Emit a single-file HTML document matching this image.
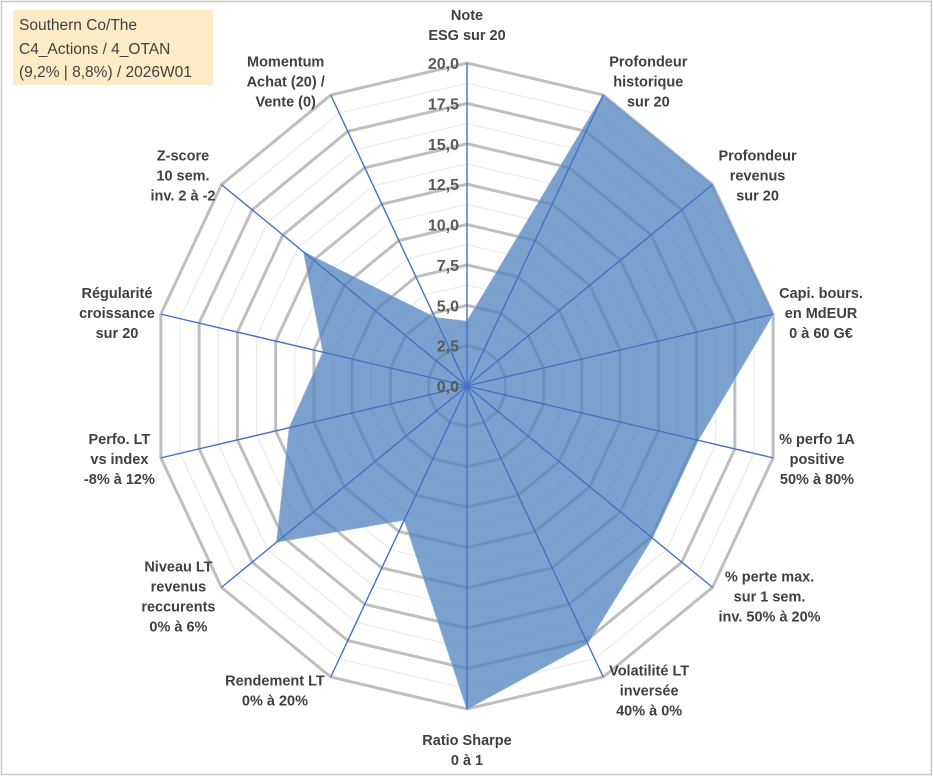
<!DOCTYPE html>
<html><head><meta charset="utf-8"><style>
body{margin:0;background:#fff;}
svg text{font-family:"Liberation Sans",sans-serif;}
</style></head><body>
<svg id="c" width="933" height="776" xmlns="http://www.w3.org/2000/svg">
<rect x="1.5" y="1.5" width="930" height="773" fill="#fff" stroke="#c8c8c8" stroke-width="1.5"/>
<rect x="13" y="10" width="200" height="75" fill="#fdebc6"/>
<text x="19" y="30" font-size="15.5" fill="#404040">Southern Co/The</text>
<text x="19" y="54" font-size="15.5" fill="#404040">C4_Actions / 4_OTAN</text>
<text x="19" y="77" font-size="15.5" fill="#404040">(9,2% | 8,8%) / 2026W01</text>
<g id="grid"></g><g id="series"></g><g id="axes"></g><g id="ticks"></g><g id="labels"></g>
</svg>
<script>
const categories=[["Note","ESG sur 20"],["Profondeur","historique","sur 20"],["Profondeur","revenus","sur 20"],["Capi. bours.","en MdEUR","0 à 60 G€"],["% perfo 1A","positive","50% à 80%"],["% perte max.","sur 1 sem.","inv. 50% à 20%"],["Volatilité LT","inversée","40% à 0%"],["Ratio Sharpe","0 à 1"],["Rendement LT","0% à 20%"],["Niveau LT","revenus","reccurents","0% à 6%"],["Perfo. LT","vs index","-8% à 12%"],["Régularité","croissance","sur 20"],["Z-score","10 sem.","inv. 2 à -2"],["Momentum","Achat (20) /","Vente (0)"]];
const values=[4.0,20,20,20,15.1,15.1,17.7,20,9.2,15.5,11.6,9.4,13.3,4.7];
const tickLabels=["0,0","2,5","5,0","7,5","10,0","12,5","15,0","17,5","20,0"];
const maxVal=20;
const cx=467,cy=386,RX=314,RY=323;
const N=categories.length;
const NS="http://www.w3.org/2000/svg";
function ang(i){return i*2*Math.PI/N;}
function pt(i,v){const r=v/maxVal;return [cx+RX*r*Math.sin(ang(i)),cy-RY*r*Math.cos(ang(i))];}
function mk(t,a,p){const e=document.createElementNS(NS,t);for(const k in a)e.setAttribute(k,a[k]);p.appendChild(e);return e;}
const grid=document.getElementById('grid');
for(let s=1;s<=16;s++){const v=s*1.25;const pts=[];for(let i=0;i<N;i++)pts.push(pt(i,v).join(','));
const major=s%2===0;
const el=mk('polygon',{points:pts.join(' '),fill:'none',stroke:major?'#bfbfbf':'#e8e8e8','stroke-width':major?3:1},grid);

}
const sp=[];for(let i=0;i<N;i++)sp.push(pt(i,values[i]).join(','));
const poly=mk('polygon',{points:sp.join(' '),fill:'#4f81bd','fill-opacity':0.75,stroke:'#8aa8d0','stroke-width':1},document.getElementById('series'));


const axes=document.getElementById('axes');
for(let i=0;i<N;i++){const p=pt(i,maxVal);const l=mk('line',{x1:cx,y1:cy,x2:p[0],y2:p[1],stroke:'#4472c4','stroke-width':1.4},axes);

}
const ticks=document.getElementById('ticks');
tickLabels.forEach((t,k)=>{const y=cy-RY*(k*2.5/maxVal)+6;const e=mk('text',{x:cx-8,y:y,'text-anchor':'end','font-size':16,'font-weight':'bold',fill:'#595959'},ticks);e.textContent=t;

});
const labs=document.getElementById('labels');
categories.forEach((lines,i)=>{const a=ang(i);const s=Math.sin(a),c=-Math.cos(a);
const v=pt(i,maxVal);
const lh=20;const h=(lines.length-1)*lh;
const g=mk('text',{'text-anchor':'middle','font-size':14.5,'font-weight':'bold',fill:'#404040'},labs);


const tsl=lines.map(ln=>{const ts=mk('tspan',{},g);ts.textContent=ln;return ts;});
let w=0;tsl.forEach(ts=>{w=Math.max(w,ts.getComputedTextLength());});
let ax,y0;
if(Math.abs(s)<0.1){ax=cx;y0=c<0?v[1]-h-23:v[1]+36;}
else{ax=v[0]+Math.sign(s)*(w/2+6);const cyl=v[1]+c*15+(Math.abs(c)<0.3?c*-10:0);y0=cyl-h/2+5;}
tsl.forEach((ts,j)=>{ts.setAttribute('x',ax);ts.setAttribute('y',y0+j*lh);});});
</script>
</body></html>
